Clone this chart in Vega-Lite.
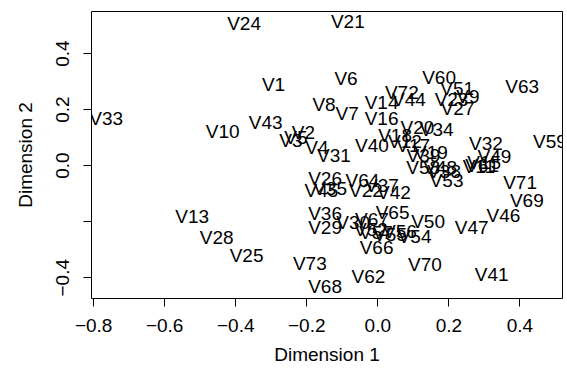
{
  "$schema": "https://vega.github.io/schema/vega-lite/v6.json",
  "width": 471,
  "height": 287,
  "autosize": {"type": "none"},
  "padding": {"left": 91, "top": 11, "right": 5, "bottom": 77},
  "background": "white",
  "config": {"view": {"stroke": "black", "strokeWidth": 1}, "font": "Liberation Sans"},
  "data": {"values": [
    {"label": "V1", "x": -0.292, "y": 0.286},
    {"label": "V2", "x": -0.208, "y": 0.114},
    {"label": "V3", "x": -0.243, "y": 0.086},
    {"label": "V4", "x": -0.170, "y": 0.061},
    {"label": "V5", "x": -0.229, "y": 0.096},
    {"label": "V6", "x": -0.088, "y": 0.307},
    {"label": "V7", "x": -0.085, "y": 0.182},
    {"label": "V8", "x": -0.150, "y": 0.214},
    {"label": "V9", "x": 0.255, "y": 0.243},
    {"label": "V10", "x": -0.435, "y": 0.120},
    {"label": "V11", "x": 0.286, "y": -0.007},
    {"label": "V12", "x": 0.078, "y": 0.082},
    {"label": "V13", "x": -0.521, "y": -0.185},
    {"label": "V14", "x": 0.012, "y": 0.220},
    {"label": "V15", "x": 0.301, "y": 0.007},
    {"label": "V16", "x": 0.012, "y": 0.165},
    {"label": "V17", "x": 0.101, "y": 0.068},
    {"label": "V18", "x": 0.050, "y": 0.104},
    {"label": "V19", "x": 0.151, "y": 0.043},
    {"label": "V20", "x": 0.113, "y": 0.131},
    {"label": "V21", "x": -0.083, "y": 0.512},
    {"label": "V22", "x": -0.032, "y": -0.091},
    {"label": "V23", "x": 0.209, "y": 0.232},
    {"label": "V24", "x": -0.375, "y": 0.505},
    {"label": "V25", "x": -0.368, "y": -0.324},
    {"label": "V26", "x": -0.147, "y": -0.050},
    {"label": "V27", "x": 0.226, "y": 0.200},
    {"label": "V28", "x": -0.452, "y": -0.261},
    {"label": "V29", "x": -0.147, "y": -0.223},
    {"label": "V30", "x": -0.068, "y": -0.205},
    {"label": "V31", "x": -0.122, "y": 0.033},
    {"label": "V32", "x": 0.306, "y": 0.075},
    {"label": "V33", "x": -0.763, "y": 0.164},
    {"label": "V34", "x": 0.167, "y": 0.125},
    {"label": "V35", "x": -0.133, "y": -0.084},
    {"label": "V36", "x": -0.147, "y": -0.175},
    {"label": "V37", "x": 0.013, "y": -0.075},
    {"label": "V38", "x": 0.188, "y": -0.025},
    {"label": "V39", "x": 0.130, "y": 0.032},
    {"label": "V40", "x": -0.015, "y": 0.068},
    {"label": "V41", "x": 0.322, "y": -0.393},
    {"label": "V42", "x": 0.047, "y": -0.098},
    {"label": "V43", "x": -0.314, "y": 0.152},
    {"label": "V44", "x": 0.089, "y": 0.231},
    {"label": "V45", "x": -0.157, "y": -0.093},
    {"label": "V46", "x": 0.355, "y": -0.181},
    {"label": "V47", "x": 0.266, "y": -0.223},
    {"label": "V48", "x": 0.177, "y": -0.011},
    {"label": "V49", "x": 0.330, "y": 0.030},
    {"label": "V50", "x": 0.143, "y": -0.203},
    {"label": "V51", "x": 0.225, "y": 0.271},
    {"label": "V52", "x": -0.018, "y": -0.232},
    {"label": "V53", "x": 0.195, "y": -0.057},
    {"label": "V54", "x": 0.105, "y": -0.257},
    {"label": "V55", "x": 0.036, "y": -0.250},
    {"label": "V56", "x": 0.064, "y": -0.239},
    {"label": "V57", "x": -0.004, "y": -0.243},
    {"label": "V58", "x": 0.129, "y": -0.011},
    {"label": "V59", "x": 0.486, "y": 0.083},
    {"label": "V60", "x": 0.174, "y": 0.310},
    {"label": "V61", "x": 0.295, "y": -0.004},
    {"label": "V62", "x": -0.025, "y": -0.399},
    {"label": "V63", "x": 0.408, "y": 0.280},
    {"label": "V64", "x": -0.042, "y": -0.057},
    {"label": "V65", "x": 0.043, "y": -0.170},
    {"label": "V66", "x": -0.002, "y": -0.295},
    {"label": "V67", "x": -0.015, "y": -0.196},
    {"label": "V68", "x": -0.147, "y": -0.435},
    {"label": "V69", "x": 0.421, "y": -0.129},
    {"label": "V70", "x": 0.134, "y": -0.357},
    {"label": "V71", "x": 0.402, "y": -0.064},
    {"label": "V72", "x": 0.069, "y": 0.257},
    {"label": "V73", "x": -0.190, "y": -0.351}
  ]},
  "mark": {"type": "text", "fontSize": 19, "font": "Liberation Sans", "color": "black", "clip": true, "baseline": "middle", "align": "center"},
  "encoding": {
    "x": {
      "field": "x", "type": "quantitative",
      "scale": {"domain": [-0.806, 0.52], "nice": false, "zero": false},
      "axis": {
        "values": [-0.8, -0.6, -0.4, -0.2, 0, 0.2, 0.4], "format": ".1f",
        "grid": false, "domain": false, "ticks": true, "tickColor": "black", "tickSize": 8, "tickWidth": 1,
        "labelFont": "Liberation Sans", "labelFontSize": 19, "labelColor": "black", "labelPadding": 10,
        "labelFlush": false, "labelOverlap": false,
        "title": "Dimension 1", "titleFont": "Liberation Sans", "titleFontSize": 19, "titleFontWeight": "normal",
        "titleColor": "black", "titlePadding": 10
      }
    },
    "y": {
      "field": "y", "type": "quantitative",
      "scale": {"domain": [-0.474, 0.55], "nice": false, "zero": false},
      "axis": {
        "values": [-0.4, -0.2, 0, 0.2, 0.4], "format": ".1f",
        "labelExpr": "datum.value > -0.25 && datum.value < -0.15 ? '' : datum.label",
        "grid": false, "domain": false, "ticks": true, "tickColor": "black", "tickSize": 8, "tickWidth": 1,
        "labelFont": "Liberation Sans", "labelFontSize": 19, "labelColor": "black", "labelPadding": 15,
        "labelAngle": -90, "labelAlign": "center", "labelBaseline": "alphabetic",
        "labelFlush": false, "labelOverlap": false,
        "title": "Dimension 2", "titleFont": "Liberation Sans", "titleFontSize": 19, "titleFontWeight": "normal",
        "titleColor": "black", "titlePadding": 18
      }
    },
    "text": {"field": "label"}
  }
}
